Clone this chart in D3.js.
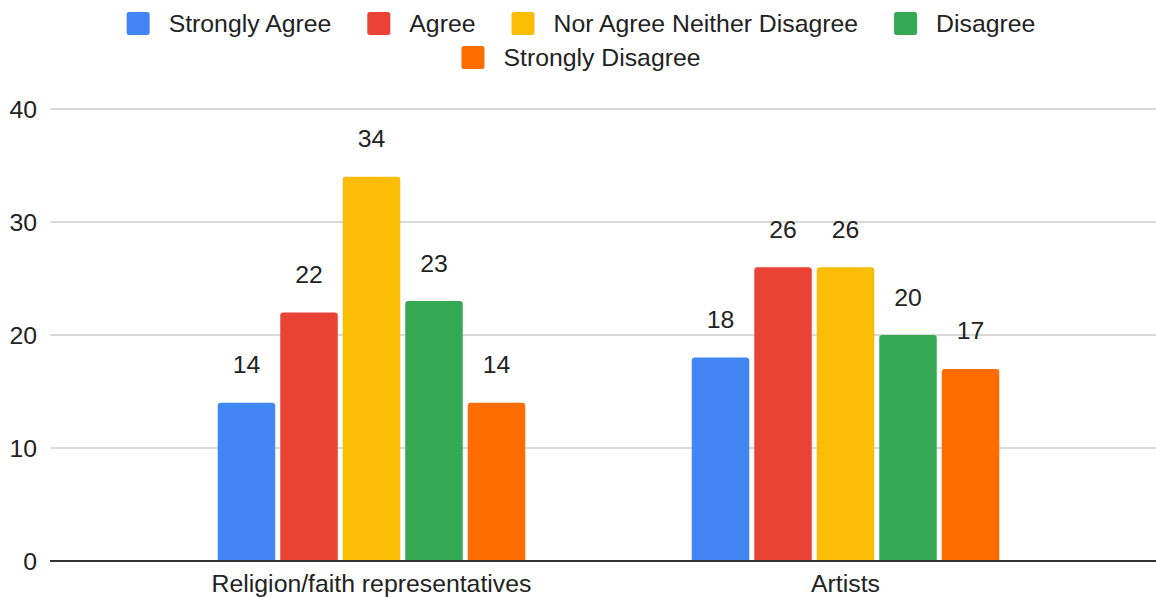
<!DOCTYPE html>
<html>
<head>
<meta charset="utf-8">
<script src="https://cdn.jsdelivr.net/npm/d3@7"></script>
<style>
  html, body { margin: 0; padding: 0; background: #fff; }
  svg { display: block; font-family: "Liberation Sans", Arial, sans-serif; }
</style>
</head>
<body>
<svg id="chart" width="1156" height="597"></svg>
<script>
// Survey responses by group
const categories = ["Religion/faith representatives", "Artists"];
const seriesNames = ["Strongly Agree", "Agree", "Nor Agree Neither Disagree", "Disagree", "Strongly Disagree"];
const seriesColors = ["#4285F4", "#EA4335", "#FBBC04", "#34A853", "#FF6D01"];
const stronglyAgree = [14, 18];
const agree = [22, 26];
const neither = [34, 26];
const disagree = [23, 20];
const stronglyDisagree = [14, 17];
const yTicks = [0, 10, 20, 30, 40];

const seriesValues = [stronglyAgree, agree, neither, disagree, stronglyDisagree];

const W = 1156, H = 597;
const FS = 24.8;
const svg = d3.select("#chart");

const y = d3.scaleLinear().domain([0, 40]).range([561, 109]);
const x0 = d3.scaleBand().domain(categories).range([134.5, 1082.5]).padding(0);
const x1 = d3.scaleBand().domain(seriesNames).range([0, x0.bandwidth()])
  .paddingInner(0.08).paddingOuter(1.332);

// Gridlines
svg.append("g").selectAll("line").data(yTicks.filter(d => d !== 0)).join("line")
  .attr("x1", 50).attr("x2", W)
  .attr("y1", d => y(d)).attr("y2", d => y(d))
  .attr("stroke", "#cccccc").attr("stroke-width", 1.6);

// Y tick labels
svg.append("g").selectAll("text").data(yTicks).join("text")
  .attr("x", 37).attr("y", d => y(d))
  .attr("dy", "0.35em")
  .attr("text-anchor", "end")
  .attr("font-size", FS).attr("fill", "#222")
  .text(d => d);

// Bars with slightly rounded tops
function barPath(x, yTop, w, yBase, r) {
  r = Math.min(r, w / 2, (yBase - yTop));
  return `M${x},${yBase}V${yTop + r}Q${x},${yTop} ${x + r},${yTop}H${x + w - r}Q${x + w},${yTop} ${x + w},${yTop + r}V${yBase}Z`;
}

const rows = [];
categories.forEach((c, ci) => {
  seriesNames.forEach((s, si) => {
    rows.push({ cat: c, series: s, value: seriesValues[si][ci], color: seriesColors[si] });
  });
});

const gBars = svg.append("g");
gBars.selectAll("path").data(rows).join("path")
  .attr("d", d => barPath(x0(d.cat) + x1(d.series), y(d.value), x1.bandwidth(), y(0), 3))
  .attr("fill", d => d.color);

// Value labels
svg.append("g").selectAll("text").data(rows).join("text")
  .attr("x", d => x0(d.cat) + x1(d.series) + x1.bandwidth() / 2)
  .attr("y", d => y(d.value) - 29.5)
  .attr("text-anchor", "middle")
  .attr("font-size", FS).attr("fill", "#222")
  .text(d => d.value);

// Baseline
svg.append("line")
  .attr("x1", 50).attr("x2", W)
  .attr("y1", y(0)).attr("y2", y(0))
  .attr("stroke", "#333").attr("stroke-width", 2);

// Category labels
svg.append("g").selectAll("text").data(categories).join("text")
  .attr("x", d => x0(d) + x0.bandwidth() / 2)
  .attr("y", 592)
  .attr("text-anchor", "middle")
  .attr("font-size", FS).attr("fill", "#222")
  .text(d => d);

// Legend, wrapped into centered rows
const legend = svg.append("g");
const sw = 23, swGap = 19, itemGap = 36, maxRow = 960, legendCx = 581;
const items = seriesNames.map((name, i) => {
  const t = legend.append("text").attr("font-size", FS).attr("fill", "#222").text(name);
  const tw = t.node().getComputedTextLength();
  return { name, color: seriesColors[i], node: t, w: sw + swGap + tw };
});
const legendRows = [];
let cur = [], curW = 0;
items.forEach(it => {
  const add = (cur.length ? itemGap : 0) + it.w;
  if (cur.length && curW + add > maxRow) { legendRows.push({ items: cur, w: curW }); cur = []; curW = 0; }
  curW += (cur.length ? itemGap : 0) + it.w;
  cur.push(it);
});
if (cur.length) legendRows.push({ items: cur, w: curW });

legendRows.forEach((row, ri) => {
  const cy = 23.5 + ri * 34;
  let xPos = legendCx - row.w / 2;
  row.items.forEach(it => {
    legend.append("rect")
      .attr("x", xPos).attr("y", cy - sw / 2)
      .attr("width", sw).attr("height", sw)
      .attr("rx", 2.5).attr("fill", it.color);
    it.node.attr("x", xPos + sw + swGap).attr("y", cy).attr("dy", "0.35em");
    xPos += it.w + itemGap;
  });
});
</script>
</body>
</html>
